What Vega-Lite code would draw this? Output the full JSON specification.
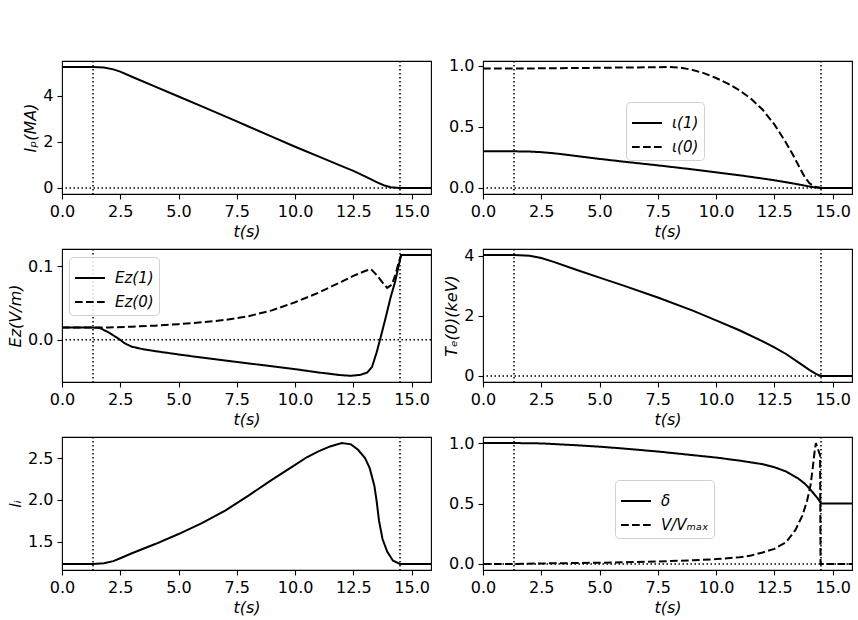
{
  "$schema": "https://vega.github.io/schema/vega-lite/v6.json",
  "padding": {"left": 7, "top": 57, "right": 5, "bottom": 5},
  "background": "white",
  "config": {
    "font": "DejaVu Sans",
    "view": {"stroke": "black", "strokeWidth": 1.1},
    "axis": {
      "labelFont": "DejaVu Sans", "labelFontSize": 16, "labelColor": "black",
      "titleFont": "DejaVu Sans", "titleFontSize": 16, "titleFontWeight": "normal",
      "titleFontStyle": "italic", "titleColor": "black",
      "tickColor": "black", "tickSize": 5, "tickWidth": 1.1,
      "domain": false, "grid": false, "labelPadding": 4,
      "labelFlush": false, "labelOverlap": false, "titlePadding": 4
    },
    "legend": {
      "labelFont": "DejaVu Sans", "labelFontSize": 15, "labelFontStyle": "italic",
      "labelColor": "black", "symbolType": "stroke", "symbolSize": 900,
      "symbolStrokeWidth": 2, "symbolStrokeColor": "black",
      "strokeColor": "#d0d0d0", "fillColor": "rgba(255,255,255,0.85)",
      "cornerRadius": 4, "padding": 5, "labelOffset": 9, "rowPadding": -7, "title": null
    },
    "line": {"color": "black", "strokeWidth": 2},
    "rule": {"color": "black", "strokeWidth": 1.5, "strokeDash": [1.5, 2.5]}
  },
  "datasets": {
    "marks": [{"t": 1.33}, {"t": 14.5}],
    "zero": [{"v": 0}],
    "ip": [
      {"t": 0, "v": 5.25}, {"t": 1.33, "v": 5.25}, {"t": 1.8, "v": 5.23}, {"t": 2.2, "v": 5.15},
      {"t": 2.5, "v": 5.05}, {"t": 3, "v": 4.83}, {"t": 4, "v": 4.4}, {"t": 5, "v": 3.97},
      {"t": 6, "v": 3.54}, {"t": 7, "v": 3.11}, {"t": 7.5, "v": 2.89}, {"t": 8, "v": 2.67},
      {"t": 9, "v": 2.23}, {"t": 10, "v": 1.79}, {"t": 11, "v": 1.37}, {"t": 12, "v": 0.95},
      {"t": 12.5, "v": 0.74}, {"t": 13, "v": 0.5}, {"t": 13.5, "v": 0.25}, {"t": 13.8, "v": 0.12},
      {"t": 14.1, "v": 0.03}, {"t": 14.5, "v": 0}, {"t": 15.83, "v": 0}
    ],
    "iota": [
      {"s": "ι(1)", "t": 0, "v": 0.3}, {"s": "ι(1)", "t": 1.33, "v": 0.3}, {"s": "ι(1)", "t": 2, "v": 0.298},
      {"s": "ι(1)", "t": 2.5, "v": 0.293}, {"s": "ι(1)", "t": 3, "v": 0.285}, {"s": "ι(1)", "t": 4, "v": 0.262},
      {"s": "ι(1)", "t": 5, "v": 0.238}, {"s": "ι(1)", "t": 6, "v": 0.216}, {"s": "ι(1)", "t": 7.5, "v": 0.185},
      {"s": "ι(1)", "t": 9, "v": 0.152}, {"s": "ι(1)", "t": 10, "v": 0.128}, {"s": "ι(1)", "t": 11, "v": 0.104},
      {"s": "ι(1)", "t": 12, "v": 0.077}, {"s": "ι(1)", "t": 12.5, "v": 0.063}, {"s": "ι(1)", "t": 13, "v": 0.047},
      {"s": "ι(1)", "t": 13.5, "v": 0.03}, {"s": "ι(1)", "t": 14, "v": 0.012}, {"s": "ι(1)", "t": 14.3, "v": 0.003},
      {"s": "ι(1)", "t": 14.5, "v": 0}, {"s": "ι(1)", "t": 15.83, "v": 0},
      {"s": "ι(0)", "t": 0, "v": 0.978}, {"s": "ι(0)", "t": 1.33, "v": 0.978}, {"s": "ι(0)", "t": 3, "v": 0.98},
      {"s": "ι(0)", "t": 5, "v": 0.984}, {"s": "ι(0)", "t": 7, "v": 0.988}, {"s": "ι(0)", "t": 8, "v": 0.99},
      {"s": "ι(0)", "t": 8.5, "v": 0.985}, {"s": "ι(0)", "t": 9, "v": 0.966}, {"s": "ι(0)", "t": 9.5, "v": 0.938},
      {"s": "ι(0)", "t": 10, "v": 0.9}, {"s": "ι(0)", "t": 10.5, "v": 0.855}, {"s": "ι(0)", "t": 11, "v": 0.8},
      {"s": "ι(0)", "t": 11.5, "v": 0.73}, {"s": "ι(0)", "t": 12, "v": 0.64}, {"s": "ι(0)", "t": 12.5, "v": 0.52},
      {"s": "ι(0)", "t": 13, "v": 0.37}, {"s": "ι(0)", "t": 13.3, "v": 0.27}, {"s": "ι(0)", "t": 13.6, "v": 0.16},
      {"s": "ι(0)", "t": 13.8, "v": 0.09}, {"s": "ι(0)", "t": 14, "v": 0.04}, {"s": "ι(0)", "t": 14.2, "v": 0.012},
      {"s": "ι(0)", "t": 14.5, "v": 0}, {"s": "ι(0)", "t": 15.83, "v": 0}
    ],
    "ez": [
      {"s": "Eᴢ(1)", "t": 0, "v": 0.0165}, {"s": "Eᴢ(1)", "t": 1.33, "v": 0.0165}, {"s": "Eᴢ(1)", "t": 1.6, "v": 0.0163},
      {"s": "Eᴢ(1)", "t": 2.0, "v": 0.010}, {"s": "Eᴢ(1)", "t": 2.4, "v": 0.002}, {"s": "Eᴢ(1)", "t": 2.7, "v": -0.005},
      {"s": "Eᴢ(1)", "t": 3, "v": -0.0095}, {"s": "Eᴢ(1)", "t": 3.5, "v": -0.013}, {"s": "Eᴢ(1)", "t": 4, "v": -0.0155},
      {"s": "Eᴢ(1)", "t": 5, "v": -0.020}, {"s": "Eᴢ(1)", "t": 6, "v": -0.0243}, {"s": "Eᴢ(1)", "t": 7.5, "v": -0.0303},
      {"s": "Eᴢ(1)", "t": 9, "v": -0.036}, {"s": "Eᴢ(1)", "t": 10, "v": -0.040}, {"s": "Eᴢ(1)", "t": 11, "v": -0.0445},
      {"s": "Eᴢ(1)", "t": 12, "v": -0.0483}, {"s": "Eᴢ(1)", "t": 12.4, "v": -0.049}, {"s": "Eᴢ(1)", "t": 12.8, "v": -0.0478},
      {"s": "Eᴢ(1)", "t": 13.1, "v": -0.0445}, {"s": "Eᴢ(1)", "t": 13.3, "v": -0.037}, {"s": "Eᴢ(1)", "t": 13.5, "v": -0.017},
      {"s": "Eᴢ(1)", "t": 13.7, "v": 0.007}, {"s": "Eᴢ(1)", "t": 13.9, "v": 0.032}, {"s": "Eᴢ(1)", "t": 14.1, "v": 0.058},
      {"s": "Eᴢ(1)", "t": 14.3, "v": 0.08}, {"s": "Eᴢ(1)", "t": 14.45, "v": 0.102}, {"s": "Eᴢ(1)", "t": 14.55, "v": 0.1153},
      {"s": "Eᴢ(1)", "t": 15.83, "v": 0.1153},
      {"s": "Eᴢ(0)", "t": 0, "v": 0.0165}, {"s": "Eᴢ(0)", "t": 1.33, "v": 0.0165}, {"s": "Eᴢ(0)", "t": 2, "v": 0.0166},
      {"s": "Eᴢ(0)", "t": 3, "v": 0.0178}, {"s": "Eᴢ(0)", "t": 4, "v": 0.0192}, {"s": "Eᴢ(0)", "t": 5, "v": 0.0212},
      {"s": "Eᴢ(0)", "t": 6, "v": 0.0237}, {"s": "Eᴢ(0)", "t": 7, "v": 0.027}, {"s": "Eᴢ(0)", "t": 8, "v": 0.032},
      {"s": "Eᴢ(0)", "t": 9, "v": 0.040}, {"s": "Eᴢ(0)", "t": 10, "v": 0.051}, {"s": "Eᴢ(0)", "t": 11, "v": 0.064},
      {"s": "Eᴢ(0)", "t": 12, "v": 0.079}, {"s": "Eᴢ(0)", "t": 12.5, "v": 0.087}, {"s": "Eᴢ(0)", "t": 13, "v": 0.0935},
      {"s": "Eᴢ(0)", "t": 13.25, "v": 0.0962}, {"s": "Eᴢ(0)", "t": 13.5, "v": 0.088}, {"s": "Eᴢ(0)", "t": 13.8, "v": 0.076},
      {"s": "Eᴢ(0)", "t": 13.95, "v": 0.0706}, {"s": "Eᴢ(0)", "t": 14.15, "v": 0.075}, {"s": "Eᴢ(0)", "t": 14.3, "v": 0.088},
      {"s": "Eᴢ(0)", "t": 14.45, "v": 0.106}, {"s": "Eᴢ(0)", "t": 14.55, "v": 0.1153}, {"s": "Eᴢ(0)", "t": 15.83, "v": 0.1153}
    ],
    "te": [
      {"t": 0, "v": 4.02}, {"t": 1.33, "v": 4.02}, {"t": 2, "v": 4.0}, {"t": 2.5, "v": 3.92},
      {"t": 3, "v": 3.8}, {"t": 4, "v": 3.53}, {"t": 5, "v": 3.27}, {"t": 6, "v": 3.01},
      {"t": 7.5, "v": 2.61}, {"t": 9, "v": 2.17}, {"t": 10, "v": 1.85}, {"t": 11, "v": 1.52},
      {"t": 12, "v": 1.15}, {"t": 12.5, "v": 0.95}, {"t": 13, "v": 0.73}, {"t": 13.5, "v": 0.47},
      {"t": 14, "v": 0.2}, {"t": 14.3, "v": 0.06}, {"t": 14.5, "v": 0}, {"t": 15.83, "v": 0}
    ],
    "li": [
      {"t": 0, "v": 1.2315}, {"t": 1.33, "v": 1.2315}, {"t": 1.8, "v": 1.24}, {"t": 2.2, "v": 1.265},
      {"t": 2.5, "v": 1.3}, {"t": 3, "v": 1.36}, {"t": 4, "v": 1.47}, {"t": 5, "v": 1.59},
      {"t": 6, "v": 1.72}, {"t": 7, "v": 1.87}, {"t": 7.5, "v": 1.96}, {"t": 8, "v": 2.05},
      {"t": 9, "v": 2.24}, {"t": 10, "v": 2.42}, {"t": 10.5, "v": 2.51}, {"t": 11, "v": 2.58},
      {"t": 11.5, "v": 2.64}, {"t": 12, "v": 2.6805}, {"t": 12.4, "v": 2.665}, {"t": 12.7, "v": 2.6},
      {"t": 13.0, "v": 2.5}, {"t": 13.2, "v": 2.38}, {"t": 13.4, "v": 2.17}, {"t": 13.5, "v": 1.98},
      {"t": 13.6, "v": 1.75}, {"t": 13.75, "v": 1.53}, {"t": 13.95, "v": 1.38}, {"t": 14.2, "v": 1.27},
      {"t": 14.5, "v": 1.2315}, {"t": 15.83, "v": 1.2315}
    ],
    "dv": [
      {"s": "δ", "t": 0, "v": 1.0}, {"s": "δ", "t": 1.33, "v": 1.0}, {"s": "δ", "t": 2.5, "v": 0.997},
      {"s": "δ", "t": 4, "v": 0.982}, {"s": "δ", "t": 5, "v": 0.97}, {"s": "δ", "t": 6, "v": 0.955},
      {"s": "δ", "t": 7.5, "v": 0.93}, {"s": "δ", "t": 9, "v": 0.9}, {"s": "δ", "t": 10, "v": 0.88},
      {"s": "δ", "t": 11, "v": 0.855}, {"s": "δ", "t": 12, "v": 0.825}, {"s": "δ", "t": 12.5, "v": 0.8},
      {"s": "δ", "t": 13, "v": 0.765}, {"s": "δ", "t": 13.5, "v": 0.71}, {"s": "δ", "t": 13.8, "v": 0.665},
      {"s": "δ", "t": 14.0, "v": 0.625}, {"s": "δ", "t": 14.2, "v": 0.58}, {"s": "δ", "t": 14.35, "v": 0.545},
      {"s": "δ", "t": 14.5, "v": 0.5}, {"s": "δ", "t": 15.83, "v": 0.5},
      {"s": "V/Vₘₐₓ", "t": 0, "v": 0}, {"s": "V/Vₘₐₓ", "t": 1.33, "v": 0}, {"s": "V/Vₘₐₓ", "t": 2.5, "v": 0.004},
      {"s": "V/Vₘₐₓ", "t": 5, "v": 0.01}, {"s": "V/Vₘₐₓ", "t": 7.5, "v": 0.02}, {"s": "V/Vₘₐₓ", "t": 9, "v": 0.03},
      {"s": "V/Vₘₐₓ", "t": 10, "v": 0.04}, {"s": "V/Vₘₐₓ", "t": 11, "v": 0.055}, {"s": "V/Vₘₐₓ", "t": 11.5, "v": 0.07},
      {"s": "V/Vₘₐₓ", "t": 12, "v": 0.095}, {"s": "V/Vₘₐₓ", "t": 12.5, "v": 0.125}, {"s": "V/Vₘₐₓ", "t": 13, "v": 0.18},
      {"s": "V/Vₘₐₓ", "t": 13.4, "v": 0.28}, {"s": "V/Vₘₐₓ", "t": 13.7, "v": 0.4}, {"s": "V/Vₘₐₓ", "t": 13.9, "v": 0.52},
      {"s": "V/Vₘₐₓ", "t": 14.05, "v": 0.65}, {"s": "V/Vₘₐₓ", "t": 14.15, "v": 0.8}, {"s": "V/Vₘₐₓ", "t": 14.22, "v": 0.92},
      {"s": "V/Vₘₐₓ", "t": 14.28, "v": 1.0}, {"s": "V/Vₘₐₓ", "t": 14.46, "v": 0.9}, {"s": "V/Vₘₐₓ", "t": 14.48, "v": 0},
      {"s": "V/Vₘₐₓ", "t": 15.83, "v": 0}
    ]
  },
  "bounds": "flush",
  "columns": 2,
  "spacing": {"row": 55, "column": 52},
  "resolve": {"scale": {"strokeDash": "independent"}, "legend": {"strokeDash": "independent"}},
  "concat": [
    {
      "width": 369, "height": 133,
      "layer": [
        {"data": {"name": "ip"}, "mark": {"type": "line"},
         "encoding": {
           "x": {"field": "t", "type": "quantitative", "scale": {"domain": [0, 15.83], "nice": false, "zero": false},
                 "axis": {"title": "t(s)", "values": [0, 2.5, 5, 7.5, 10, 12.5, 15], "format": ".1f"}},
           "y": {"field": "v", "type": "quantitative", "scale": {"domain": [-0.2625, 5.5125], "nice": false, "zero": false},
                 "axis": {"title": "Iₚ(MA)", "values": [0, 2, 4], "format": "d"}}
         }},
        {"data": {"name": "marks"}, "mark": {"type": "rule"}, "encoding": {"x": {"field": "t", "type": "quantitative"}}},
        {"data": {"name": "zero"}, "mark": {"type": "rule"}, "encoding": {"y": {"field": "v", "type": "quantitative"}}}
      ]
    },
    {
      "width": 369, "height": 133,
      "layer": [
        {"data": {"name": "iota"}, "mark": {"type": "line"},
         "encoding": {
           "x": {"field": "t", "type": "quantitative", "scale": {"domain": [0, 15.83], "nice": false, "zero": false},
                 "axis": {"title": "t(s)", "values": [0, 2.5, 5, 7.5, 10, 12.5, 15], "format": ".1f"}},
           "y": {"field": "v", "type": "quantitative", "scale": {"domain": [-0.0495, 1.0395], "nice": false, "zero": false},
                 "axis": {"title": null, "values": [0, 0.5, 1], "format": ".1f"}},
           "strokeDash": {"field": "s", "type": "nominal",
                 "scale": {"domain": ["ι(1)", "ι(0)"], "range": [[1, 0], [7.7, 3.3]]},
                 "legend": {"orient": "none", "legendX": 143, "legendY": 41}}
         }},
        {"data": {"name": "marks"}, "mark": {"type": "rule"}, "encoding": {"x": {"field": "t", "type": "quantitative"}}},
        {"data": {"name": "zero"}, "mark": {"type": "rule"}, "encoding": {"y": {"field": "v", "type": "quantitative"}}}
      ]
    },
    {
      "width": 369, "height": 133,
      "layer": [
        {"data": {"name": "ez"}, "mark": {"type": "line"},
         "encoding": {
           "x": {"field": "t", "type": "quantitative", "scale": {"domain": [0, 15.83], "nice": false, "zero": false},
                 "axis": {"title": "t(s)", "values": [0, 2.5, 5, 7.5, 10, 12.5, 15], "format": ".1f"}},
           "y": {"field": "v", "type": "quantitative", "scale": {"domain": [-0.0575, 0.1235], "nice": false, "zero": false},
                 "axis": {"title": "Eᴢ(V/m)", "values": [0, 0.1], "format": ".1f"}},
           "strokeDash": {"field": "s", "type": "nominal",
                 "scale": {"domain": ["Eᴢ(1)", "Eᴢ(0)"], "range": [[1, 0], [7.7, 3.3]]},
                 "legend": {"orient": "none", "legendX": 7, "legendY": 8}}
         }},
        {"data": {"name": "marks"}, "mark": {"type": "rule"}, "encoding": {"x": {"field": "t", "type": "quantitative"}}},
        {"data": {"name": "zero"}, "mark": {"type": "rule"}, "encoding": {"y": {"field": "v", "type": "quantitative"}}}
      ]
    },
    {
      "width": 369, "height": 133,
      "layer": [
        {"data": {"name": "te"}, "mark": {"type": "line"},
         "encoding": {
           "x": {"field": "t", "type": "quantitative", "scale": {"domain": [0, 15.83], "nice": false, "zero": false},
                 "axis": {"title": "t(s)", "values": [0, 2.5, 5, 7.5, 10, 12.5, 15], "format": ".1f"}},
           "y": {"field": "v", "type": "quantitative", "scale": {"domain": [-0.201, 4.221], "nice": false, "zero": false},
                 "axis": {"title": "Tₑ(0)(keV)", "values": [0, 2, 4], "format": "d"}}
         }},
        {"data": {"name": "marks"}, "mark": {"type": "rule"}, "encoding": {"x": {"field": "t", "type": "quantitative"}}},
        {"data": {"name": "zero"}, "mark": {"type": "rule"}, "encoding": {"y": {"field": "v", "type": "quantitative"}}}
      ]
    },
    {
      "width": 369, "height": 133,
      "layer": [
        {"data": {"name": "li"}, "mark": {"type": "line"},
         "encoding": {
           "x": {"field": "t", "type": "quantitative", "scale": {"domain": [0, 15.83], "nice": false, "zero": false},
                 "axis": {"title": "t(s)", "values": [0, 2.5, 5, 7.5, 10, 12.5, 15], "format": ".1f"}},
           "y": {"field": "v", "type": "quantitative", "scale": {"domain": [1.159, 2.753], "nice": false, "zero": false},
                 "axis": {"title": "lᵢ", "values": [1.5, 2, 2.5], "format": ".1f"}}
         }},
        {"data": {"name": "marks"}, "mark": {"type": "rule"}, "encoding": {"x": {"field": "t", "type": "quantitative"}}}
      ]
    },
    {
      "width": 369, "height": 133,
      "layer": [
        {"data": {"name": "dv"}, "mark": {"type": "line"},
         "encoding": {
           "x": {"field": "t", "type": "quantitative", "scale": {"domain": [0, 15.83], "nice": false, "zero": false},
                 "axis": {"title": "t(s)", "values": [0, 2.5, 5, 7.5, 10, 12.5, 15], "format": ".1f"}},
           "y": {"field": "v", "type": "quantitative", "scale": {"domain": [-0.05, 1.05], "nice": false, "zero": false},
                 "axis": {"title": null, "values": [0, 0.5, 1], "format": ".1f"}},
           "strokeDash": {"field": "s", "type": "nominal",
                 "scale": {"domain": ["δ", "V/Vₘₐₓ"], "range": [[1, 0], [7.7, 3.3]]},
                 "legend": {"orient": "none", "legendX": 132, "legendY": 43}}
         }},
        {"data": {"name": "marks"}, "mark": {"type": "rule"}, "encoding": {"x": {"field": "t", "type": "quantitative"}}},
        {"data": {"name": "zero"}, "mark": {"type": "rule"}, "encoding": {"y": {"field": "v", "type": "quantitative"}}}
      ]
    }
  ]
}
